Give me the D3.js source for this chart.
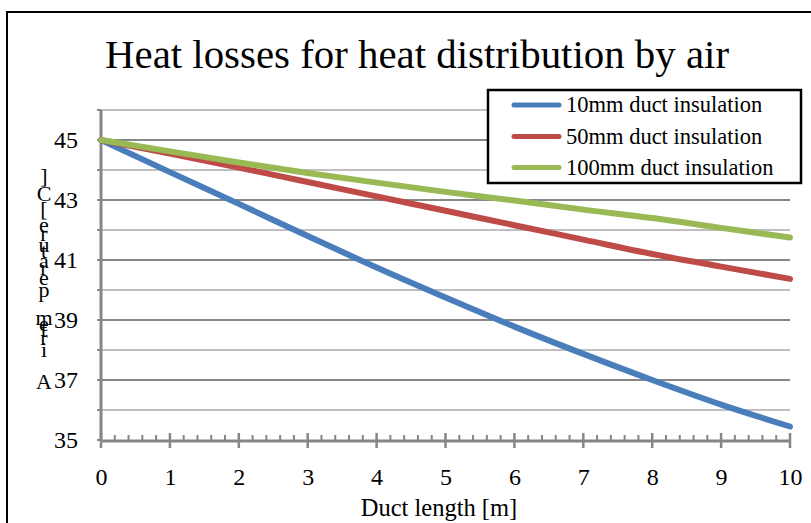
<!DOCTYPE html>
<html><head><meta charset="utf-8">
<script src="https://cdn.jsdelivr.net/npm/d3@7"></script>
<style>body{margin:0;background:#fff}svg{display:block}text{font-family:"Liberation Serif","Times New Roman",serif;fill:#000}</style>
</head><body>
<svg id="c" width="811" height="523"></svg>
<script>
const xValues = [0,1,2,3,4,5,6,7,8,9,10];
const seriesNames = ["10mm duct insulation","50mm duct insulation","100mm duct insulation"];
const series10 = [45,43.93,42.87,41.8,40.75,39.75,38.78,37.87,37.0,36.18,35.45];
const series50 = [45,44.55,44.08,43.6,43.12,42.64,42.16,41.68,41.2,40.78,40.37];
const series100 = [45,44.62,44.25,43.9,43.58,43.27,42.98,42.68,42.4,42.07,41.75];
const colors = ["#4a7ebb","#be4b48","#98b954"];
const yTickLabels = [35,37,39,41,43,45];
const xTickLabels = [0,1,2,3,4,5,6,7,8,9,10];
const title = "Heat losses for heat distribution by air";
const xTitle = "Duct length [m]";
const yTitleChars = ["A","i","r","t","e","m","p","e","r","a","t","u","r","e","[","C","]"];
const yTitleBase = [389,357,345,337,331,325,297,285,275,268,258,252,241,232,216,201,183];

const svg = d3.select("#c");
const x = d3.scaleLinear().domain([0,10]).range([101,790]);
const y = d3.scaleLinear().domain([35,46]).range([440,110]);

// outer border
svg.append("rect").attr("x",7).attr("y",12).attr("width",830).attr("height",540)
  .attr("fill","none").attr("stroke","#000").attr("stroke-width",2);

// title
svg.append("text").attr("x",105).attr("y",68).attr("font-size",41)
  .attr("textLength",624).attr("lengthAdjust","spacingAndGlyphs").text(title);

// gridlines
const gridVals = d3.range(36,47);
svg.append("g").selectAll("line").data(gridVals).join("line")
  .attr("x1",x(0)).attr("x2",x(10)).attr("y1",d=>y(d)).attr("y2",d=>y(d))
  .attr("stroke",d=>d%2===1?"#878787":"#c0c0c0").attr("stroke-width",2);

// axes lines
svg.append("line").attr("x1",x(0)).attr("x2",x(0)).attr("y1",y(46)).attr("y2",y(35)+1)
  .attr("stroke","#868686").attr("stroke-width",3);
svg.append("line").attr("x1",x(0)).attr("x2",x(10)+1).attr("y1",y(35)+1).attr("y2",y(35)+1)
  .attr("stroke","#868686").attr("stroke-width",3);

// x ticks
const minor = d3.range(0,10.001,0.2).filter(v=>Math.abs(v-Math.round(v))>1e-6);
svg.append("g").selectAll("line").data(minor).join("line")
  .attr("x1",d=>x(d)).attr("x2",d=>x(d)).attr("y1",y(35)-5).attr("y2",y(35)+1)
  .attr("stroke","#868686").attr("stroke-width",2);
svg.append("g").selectAll("line").data(xTickLabels).join("line")
  .attr("x1",d=>x(d)).attr("x2",d=>x(d)).attr("y1",y(35)-7).attr("y2",y(35)+8)
  .attr("stroke","#868686").attr("stroke-width",2.5);
// y ticks
svg.append("g").selectAll("line").data(d3.range(35,47)).join("line")
  .attr("x1",x(0)-4).attr("x2",x(0)).attr("y1",d=>y(d)).attr("y2",d=>y(d))
  .attr("stroke","#868686").attr("stroke-width",2);

// x axis labels
const xa = svg.append("g").attr("transform",`translate(0,${y(35)})`)
  .call(d3.axisBottom(x).tickValues(xTickLabels).tickSize(0).tickPadding(28).tickFormat(d3.format("d")));
xa.select(".domain").remove();
xa.selectAll("text").attr("font-size",24).attr("font-family","Liberation Serif").attr("fill","#000");

// y axis labels
const ya = svg.append("g").attr("transform",`translate(${x(0)},0)`)
  .call(d3.axisLeft(y).tickValues(yTickLabels).tickSize(0).tickPadding(23).tickFormat(d3.format("d")));
ya.select(".domain").remove();
ya.selectAll("text").attr("font-size",24).attr("font-family","Liberation Serif").attr("fill","#000");

// axis titles
svg.append("text").attr("x",439).attr("y",516).attr("text-anchor","middle").attr("font-size",24.5).text(xTitle);
svg.append("g").selectAll("text").data(yTitleChars).join("text")
  .attr("x",44).attr("y",(d,i)=>yTitleBase[i]).attr("text-anchor","middle").attr("font-size",22).text(d=>d);

// lines
const allSeries = [series10,series50,series100];
const line = d3.line().x((d,i)=>x(xValues[i])).y(d=>y(d)).curve(d3.curveMonotoneX);
svg.append("g").selectAll("path").data(allSeries).join("path")
  .attr("d",line).attr("fill","none").attr("stroke",(d,i)=>colors[i])
  .attr("stroke-width",6).attr("stroke-linejoin","round").attr("stroke-linecap","round");

// legend
const lg = svg.append("g");
lg.append("rect").attr("x",488).attr("y",90).attr("width",313).attr("height",93)
  .attr("fill","#fff").attr("stroke","#000").attr("stroke-width",2.5);
const ly = [105,136.5,167.5];
seriesNames.forEach((n,i)=>{
  lg.append("line").attr("x1",514).attr("x2",559).attr("y1",ly[i]).attr("y2",ly[i])
    .attr("stroke",colors[i]).attr("stroke-width",5).attr("stroke-linecap","round");
  lg.append("text").attr("x",566).attr("y",ly[i]+7).attr("font-size",22.5).text(n);
});
</script>
</body></html>
